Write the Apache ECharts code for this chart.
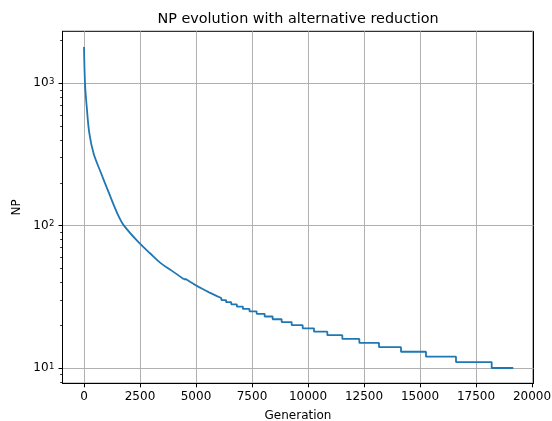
<!DOCTYPE html>
<html><head><meta charset="utf-8">
<script src="https://cdn.jsdelivr.net/npm/echarts@6/dist/echarts.min.js"></script>
<style>html,body{margin:0;padding:0;background:#fff}#c{width:552px;height:421px}</style>
</head><body><div id="c"></div>
<script>
const titleText = 'NP evolution with alternative reduction';
const xName = 'Generation';
const yName = 'NP';
const xTicks = [0, 2500, 5000, 7500, 10000, 12500, 15000, 17500, 20000];
const yMajorTicks = [10, 100, 1000];
const yMinorTicks = [8, 9, 20, 30, 40, 50, 60, 70, 80, 90, 200, 300, 400, 500, 600, 700, 800, 900, 2000];

// smooth (early) part of the curve: generation, NP
const smoothGen = [0, 45, 121, 237, 429, 741, 1116, 1487, 1786, 2487, 2946, 3424, 3900, 4460];
const smoothNP  = [1800, 1000, 685, 446, 321, 238, 169, 122, 100, 75, 64, 54.5, 48.5, 42];

// stepped (late) part: NP level and generation where that level starts
const stepLevels = [42, 41, 40, 39, 38, 37, 36, 35, 34, 33, 32, 31, 30, 29, 28, 27, 26, 25, 24, 23, 22, 21, 20, 19, 18, 17, 16, 15, 14, 13, 12, 11, 10];
const stepStarts = [4460, 4560, 4663, 4771, 4886, 5008, 5138, 5277, 5425, 5583, 5753, 5935, 6131, 6343, 6573, 6823, 7093, 7388, 7708, 8065, 8423, 8824, 9271, 9763, 10268, 10863, 11533, 12292, 13170, 14152, 15268, 16607, 18200];
const lastGen = 19165;

const FONT = '"DejaVu Sans", "Liberation Sans", sans-serif';

const smoothData = smoothGen.map((g, i) => [g, smoothNP[i]]);
const stepData = [];
stepLevels.forEach((lv, i) => {
  const end = i + 1 < stepStarts.length ? stepStarts[i + 1] : lastGen;
  stepData.push([stepStarts[i], lv]);
  stepData.push([end, lv]);
});

const lineStyle = {color: '#1f77b4', width: 1.8};

const chart = echarts.init(document.getElementById('c'), null, {renderer: 'canvas'});
chart.setOption({
  animation: false,
  backgroundColor: '#fff',
  graphic: [{
    type: 'text', x: 298, y: 19, z: 10,
    style: {text: titleText, fill: '#000', fontSize: 14.4, fontFamily: FONT,
            align: 'center', verticalAlign: 'middle', textAlign: 'center', textVerticalAlign: 'middle'}
  }],
  grid: [
    {left: 62.5, top: 31.3, width: 471, height: 352, show: true, borderColor: '#000', borderWidth: 1,
     backgroundColor: 'transparent', containLabel: false, outerBoundsMode: 'none'},
    {left: 84, top: 31.3, width: 448, height: 352, containLabel: false, outerBoundsMode: 'none'}
  ],
  xAxis: [
    {type: 'value', gridIndex: 0, min: -960, max: 20067, position: 'bottom',
     axisLine: {show: true, onZero: false, lineStyle: {color: '#000', width: 1}},
     axisTick: {show: true, customValues: xTicks, length: 4, lineStyle: {color: '#000', width: 1}},
     axisLabel: {customValues: xTicks, margin: 8, fontSize: 12, color: '#000', fontFamily: FONT, hideOverlap: false,
       formatter: v => String(v)},
     splitLine: {show: false},
     name: xName, nameLocation: 'middle', nameGap: 27,
     nameTextStyle: {fontSize: 12, color: '#000', fontFamily: FONT}},
    {type: 'value', gridIndex: 1, min: 0, max: 20000, interval: 2500,
     axisLine: {show: false, onZero: false}, axisTick: {show: false}, axisLabel: {show: false},
     splitLine: {show: true, lineStyle: {color: '#b0b0b0', width: 1}}}
  ],
  yAxis: [
    {type: 'log', logBase: 10, gridIndex: 0, min: 7.806, max: 2319, position: 'left',
     axisLine: {show: true, onZero: false, lineStyle: {color: '#000', width: 1}},
     axisTick: {show: true, customValues: yMajorTicks, length: 4, lineStyle: {color: '#000', width: 1}},
     axisLabel: {customValues: yMajorTicks, margin: 8, fontSize: 12, color: '#000', fontFamily: FONT,
       formatter: v => '10{sup|' + Math.round(Math.log10(v)) + '}',
       rich: {sup: {fontSize: 8.5, fontFamily: FONT, color: '#000', verticalAlign: 'top', padding: [0, 0, 0, 0.5]}}},
     splitLine: {show: true, lineStyle: {color: '#b0b0b0', width: 1}},
     name: yName, nameLocation: 'middle', nameGap: 39, nameRotate: 90,
     nameTextStyle: {fontSize: 12, color: '#000', fontFamily: FONT}},
    {type: 'log', logBase: 10, gridIndex: 0, min: 7.806, max: 2319, position: 'left', offset: 0,
     axisLine: {show: false, onZero: false},
     axisTick: {show: true, customValues: yMinorTicks, length: 2.4, lineStyle: {color: '#000', width: 0.8}},
     axisLabel: {show: false}, splitLine: {show: false}},
    {type: 'value', gridIndex: 1, show: false, min: 0, max: 1}
  ],
  series: [
    {type: 'line', xAxisIndex: 0, yAxisIndex: 0, data: smoothData,
     showSymbol: false, symbol: 'none', z: 3, smooth: 0.35, lineStyle: lineStyle},
    {type: 'line', xAxisIndex: 0, yAxisIndex: 0, data: stepData,
     showSymbol: false, symbol: 'none', z: 3, lineStyle: lineStyle}
  ]
});
</script></body></html>
